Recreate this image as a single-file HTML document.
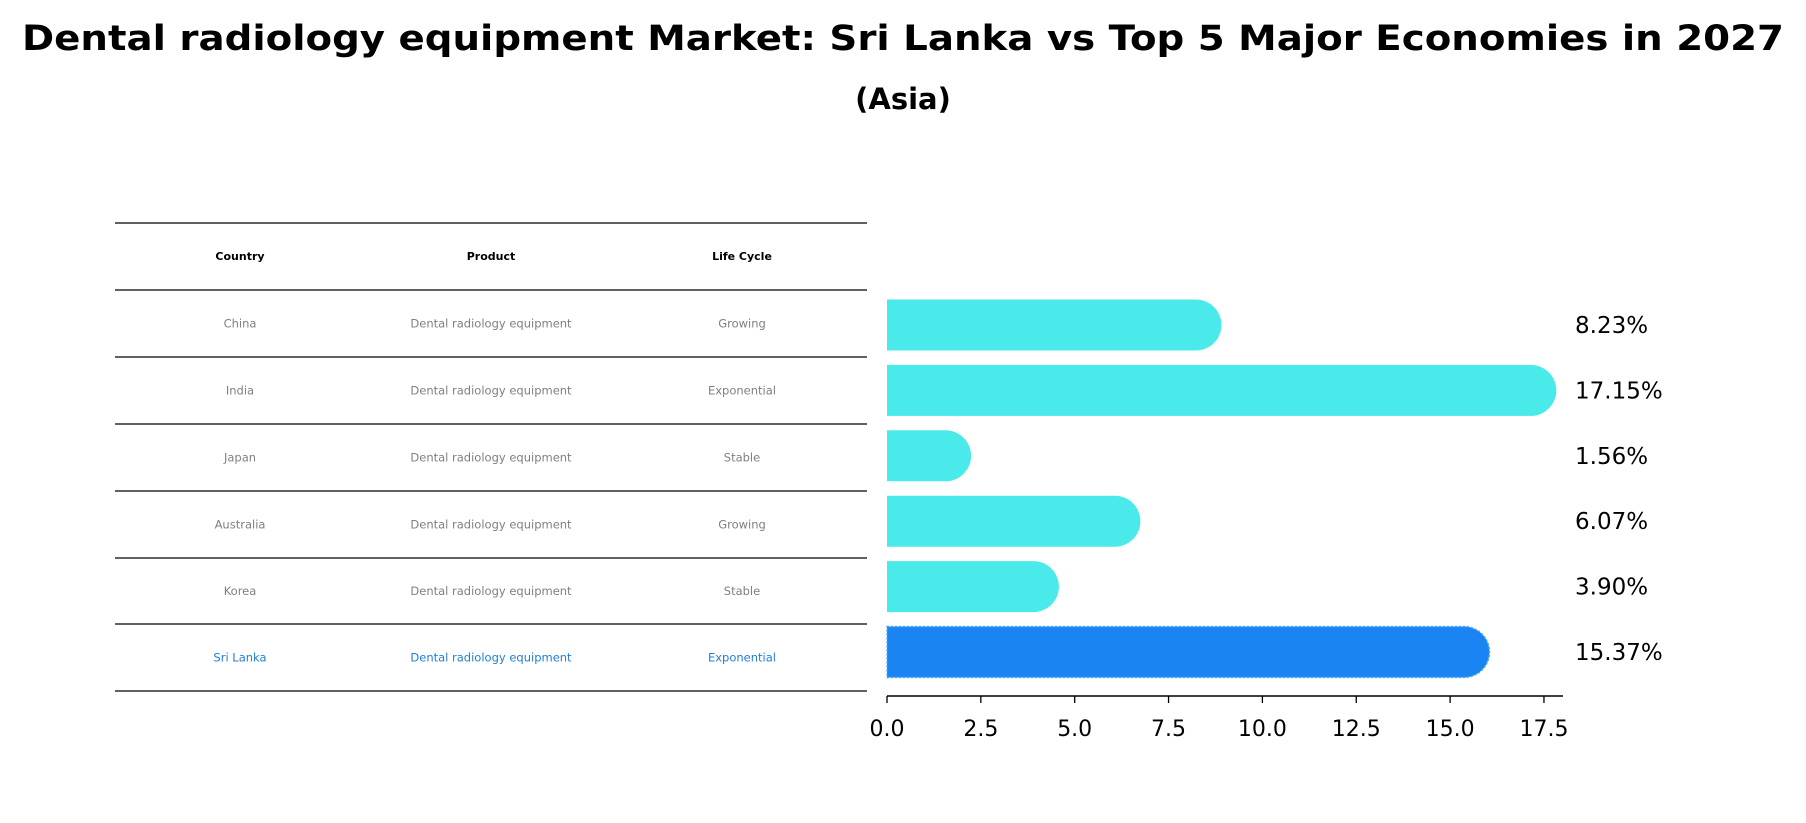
<!DOCTYPE html>
<html><head><meta charset="utf-8"><style>
html,body{margin:0;padding:0;background:#fff;}
svg{display:block;font-family:"DejaVu Sans","Liberation Sans",sans-serif;}
</style></head><body>
<svg id="c" width="1806" height="823" viewBox="0 0 1806 823">
<text x="903" y="50" text-anchor="middle" font-size="35" font-weight="bold" textLength="1762" lengthAdjust="spacingAndGlyphs">Dental radiology equipment Market: Sri Lanka vs Top 5 Major Economies in 2027</text>
<text x="903" y="109" text-anchor="middle" font-size="29" font-weight="bold">(Asia)</text>
<g id="table"></g>
<g id="bars"></g>
</svg>
<script>
const countries=["China","India","Japan","Australia","Korea","Sri Lanka"];
const products=["Dental radiology equipment","Dental radiology equipment","Dental radiology equipment","Dental radiology equipment","Dental radiology equipment","Dental radiology equipment"];
const lifecycles=["Growing","Exponential","Stable","Growing","Stable","Exponential"];
const values=[8.23,17.15,1.56,6.07,3.90,15.37];
const labels=["8.23%","17.15%","1.56%","6.07%","3.90%","15.37%"];
const ticks=[0,2.5,5,7.5,10,12.5,15,17.5];
const tickLabels=["0.0","2.5","5.0","7.5","10.0","12.5","15.0","17.5"];

const NS="http://www.w3.org/2000/svg";
function mk(tag,attrs,parent,txt){const e=document.createElementNS(NS,tag);for(const k in attrs)e.setAttribute(k,attrs[k]);if(txt!==undefined)e.textContent=txt;parent.appendChild(e);return e;}
const X0=887,PX=37.54;
function xs(v){return X0+v*PX;}
const Y0=325,STEP=65.4,BH=51;
function ys(i){return Y0+i*STEP;}

// table
const tb=document.getElementById('table');
const lineY=[223,290,357,424,491,558,624,691];
lineY.forEach((y,i)=>{const l=mk('line',{x1:115,x2:867,y1:y,y2:y,stroke:'#000','stroke-width':1.2},tb);

});
const colX=[240,491,742];
["Country","Product","Life Cycle"].forEach((h,j)=>{const t=mk('text',{x:colX[j],y:260,'text-anchor':'middle','font-size':11,'font-weight':'bold'},tb,h);

});
countries.forEach((c,i)=>{
 const y=(lineY[i+1]+lineY[i+2])/2+4;
 const col=i===countries.length-1?'#1f7fd6':'#808080';
 [c,products[i],lifecycles[i]].forEach((v,j)=>{const t=mk('text',{x:colX[j],y:y,'text-anchor':'middle','font-size':11.5,fill:col},tb,v);
 
 });
});

// bars
const bg=document.getElementById('bars');
values.forEach((v,i)=>{
 const last=i===values.length-1;
 const col=last?'#1a84f2':'#4aeaea';
 const y=ys(i)-BH/2, xe=xs(v), r=BH/2;
 const p=mk('path',{d:`M${X0} ${y} H${xe} A${r} ${r} 0 0 1 ${xe} ${y+BH} H${X0} Z`,fill:col},bg);
 
 
 if(last){p.setAttribute('stroke','#4aa8ff');p.setAttribute('stroke-dasharray','2 2');p.setAttribute('stroke-width','1.5');}
 const t=mk('text',{x:1575,y:ys(i)+8,'font-size':23},bg,labels[i]);
 
 
});
const ax=mk('line',{x1:X0,x2:1563,y1:696,y2:696,stroke:'#000','stroke-width':1.5},bg);


ticks.forEach((t,i)=>{
 const l=mk('line',{x1:xs(t),x2:xs(t),y1:696,y2:703,stroke:'#000','stroke-width':1.3},bg);
 
 
 const tx=mk('text',{x:xs(t),y:736,'text-anchor':'middle','font-size':22},bg,tickLabels[i]);
 
 
});
</script>
</body></html>
